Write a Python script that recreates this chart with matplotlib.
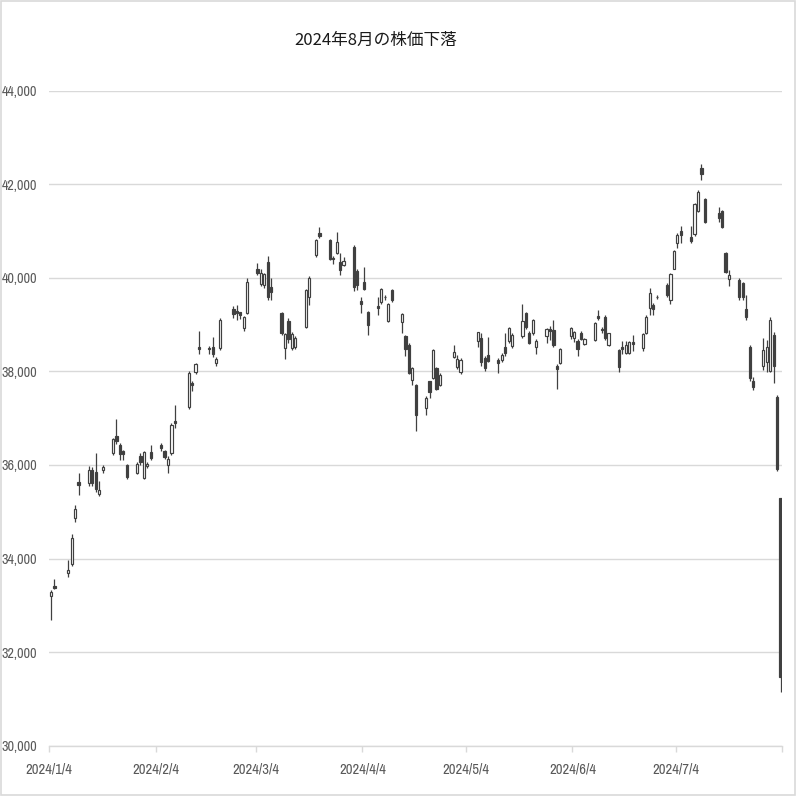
import datetime as dt
import matplotlib
matplotlib.use("Agg")
import matplotlib.pyplot as plt
import matplotlib.dates as mdates
from matplotlib import font_manager
from matplotlib.font_manager import FontProperties
from matplotlib.patches import Rectangle

# ---------------- data ----------------
dates = [
    "2024-01-04", "2024-01-05", "2024-01-09", "2024-01-10", "2024-01-11", "2024-01-12",
    "2024-01-15", "2024-01-16", "2024-01-17", "2024-01-18", "2024-01-19",
    "2024-01-22", "2024-01-23", "2024-01-24", "2024-01-25", "2024-01-26",
    "2024-01-29", "2024-01-30", "2024-01-31", "2024-02-01", "2024-02-02",
    "2024-02-05", "2024-02-06", "2024-02-07", "2024-02-08", "2024-02-09",
    "2024-02-13", "2024-02-14", "2024-02-15", "2024-02-16",
    "2024-02-19", "2024-02-20", "2024-02-21", "2024-02-22",
    "2024-02-26", "2024-02-27", "2024-02-28", "2024-02-29", "2024-03-01",
    "2024-03-04", "2024-03-05", "2024-03-06", "2024-03-07", "2024-03-08",
    "2024-03-11", "2024-03-12", "2024-03-13", "2024-03-14", "2024-03-15",
    "2024-03-18", "2024-03-19", "2024-03-21", "2024-03-22",
    "2024-03-25", "2024-03-26", "2024-03-27", "2024-03-28", "2024-03-29",
    "2024-04-01", "2024-04-02", "2024-04-03", "2024-04-04", "2024-04-05",
    "2024-04-08", "2024-04-09", "2024-04-10", "2024-04-11", "2024-04-12",
    "2024-04-15", "2024-04-16", "2024-04-17", "2024-04-18", "2024-04-19",
    "2024-04-22", "2024-04-23", "2024-04-24", "2024-04-25", "2024-04-26",
    "2024-04-30", "2024-05-01", "2024-05-02",
    "2024-05-07", "2024-05-08", "2024-05-09", "2024-05-10",
    "2024-05-13", "2024-05-14", "2024-05-15", "2024-05-16", "2024-05-17",
    "2024-05-20", "2024-05-21", "2024-05-22", "2024-05-23", "2024-05-24",
    "2024-05-27", "2024-05-28", "2024-05-29", "2024-05-30", "2024-05-31",
    "2024-06-03", "2024-06-04", "2024-06-05", "2024-06-06", "2024-06-07",
    "2024-06-10", "2024-06-11", "2024-06-12", "2024-06-13", "2024-06-14",
    "2024-06-17", "2024-06-18", "2024-06-19", "2024-06-20", "2024-06-21",
    "2024-06-24", "2024-06-25", "2024-06-26", "2024-06-27", "2024-06-28",
    "2024-07-01", "2024-07-02", "2024-07-03", "2024-07-04", "2024-07-05",
    "2024-07-08", "2024-07-09", "2024-07-10", "2024-07-11", "2024-07-12",
    "2024-07-16", "2024-07-17", "2024-07-18", "2024-07-19",
    "2024-07-22", "2024-07-23", "2024-07-24", "2024-07-25", "2024-07-26",
    "2024-07-29", "2024-07-30", "2024-07-31", "2024-08-01", "2024-08-02",
    "2024-08-03",
]

opens = [
    33193, 33420, 33690, 33890, 34865, 35640,
    35620, 35900, 35860, 35380, 35900,
    36260, 36620, 36430, 36290, 36010,
    35820, 36200, 35730, 35980, 36270,
    36430, 36290, 36000, 36250, 36950,
    37250, 37760, 37990, 38530,
    38500, 38530, 38180, 38500,
    39330, 39290, 39260, 38930, 39250,
    40200, 39860, 39850, 40350, 39810,
    39250, 38500, 39070, 38500, 38530,
    38950, 39600, 40490, 40960,
    40810, 40430, 40530, 40340, 40280,
    40670, 40150, 39500, 39920, 39260,
    39400, 39490, 39600, 39080, 39750,
    39050, 38750, 38570, 37820, 37720,
    37210, 37790, 37860, 38070, 37720,
    38300, 38090, 37990,
    38640, 38710, 38280, 38360,
    38250, 38250, 38520, 38640, 38550,
    38750, 39240, 38830, 38820, 38520,
    38750, 38910, 38890, 38120, 38180,
    38750, 38710, 38640, 38820, 38590,
    38680, 39180, 38900, 39170, 38560,
    38460, 38520, 38400, 38400, 38620,
    38500, 38820, 39350, 39420, 39600,
    39850, 39530, 40200, 40740, 41000,
    40870, 40940, 41420, 42350, 41680,
    41380, 41420, 40530, 39970,
    39960, 39890, 39330, 38530, 37790,
    38110, 38210, 38000, 38780, 37450,
    35294,
]

highs = [
    33330, 33570, 33975, 34530, 35150, 35820,
    35980, 35960, 36250, 35650, 36010,
    36580, 36984, 36470, 36330, 36020,
    36070, 36250, 36300, 36060, 36430,
    36460, 36310, 36200, 36900, 37287,
    38000, 37790, 38190, 38865,
    38540, 38730, 38300, 39140,
    39390, 39420, 39280, 39180, 39990,
    40320, 40180, 40100, 40470, 40000,
    39280, 38830, 39140, 38850, 38760,
    39760, 40030, 40830, 41087,
    40830, 40460, 40979, 40530, 40450,
    40710, 40180, 39600, 40240, 39300,
    39590, 39790, 39640, 39470, 39770,
    39250, 38780, 38600, 38090, 37740,
    37470, 37800, 38470, 38100, 37960,
    38570, 38350, 38290,
    38850, 38820, 38330, 38740,
    38290, 38400, 38820, 38960, 38830,
    39437, 39280, 38870, 39130, 38700,
    38920, 38980, 39100, 38150, 38500,
    38950, 38870, 38700, 38870, 38720,
    39060, 39320, 38960, 39210, 38830,
    38470, 38650, 38650, 38650, 38780,
    38830, 39200, 39780, 39460, 39630,
    39900, 40100, 40600, 40960, 41100,
    41100, 41600, 41880, 42426, 41700,
    41520, 41450, 40550, 40170,
    39990, 39920, 39640, 38560, 37890,
    38710, 38680, 39170, 38850, 37500,
    35294,
]

lows = [
    32693, 33350, 33600, 33840, 34780, 35360,
    35560, 35560, 35430, 35340, 35820,
    36220, 36450, 36110, 36100, 35700,
    35800, 36000, 35700, 35940, 36100,
    36300, 36120, 35830, 36220, 36800,
    37195, 37590, 37950, 38380,
    38380, 38300, 38110, 38460,
    39150, 39100, 39130, 38875, 39230,
    40070, 39820, 39790, 39530, 39530,
    38780, 38271, 38600, 38450, 38480,
    38930, 39420, 40450, 40850,
    40380, 40300, 40500, 40070, 40250,
    39710, 39740, 39250, 39740, 38780,
    39210, 39450, 39530, 39060, 39490,
    38820, 38320, 37950, 37710, 36733,
    37070, 37430, 37840, 37600, 37680,
    38280, 38050, 37950,
    38530, 38110, 38000, 38200,
    37960, 38200, 38330, 38600, 38500,
    38720, 38900, 38580, 38780, 38370,
    38600, 38680, 38520, 37617, 38150,
    38700, 38630, 38330, 38680, 38560,
    38660, 39100, 38820, 38680, 38540,
    37980, 38380, 38380, 38380, 38430,
    38430, 38800, 39210, 39210, 39550,
    39600, 39450, 40180, 40640, 40740,
    40750, 40900, 41400, 42100, 41170,
    41200, 41060, 40100, 39820,
    39530, 39530, 39090, 37800, 37610,
    38030, 37980, 37990, 37750, 35880,
    31156,
]

closes = [
    33288, 33377, 33763, 34441, 35049, 35577,
    35901, 35619, 35477, 35466, 35963,
    36546, 36517, 36226, 36236, 35751,
    36026, 36065, 36286, 36011, 36158,
    36354, 36160, 36119, 36863, 36897,
    37963, 37703, 38157, 38487,
    38470, 38363, 38262, 39098,
    39233, 39239, 39208, 39166, 39910,
    40109, 40097, 40090, 39598, 39688,
    38820, 38797, 38695, 38807, 38707,
    39740, 40003, 40815, 40888,
    40414, 40398, 40762, 40168, 40369,
    39803, 39838, 39451, 39773, 38992,
    39347, 39773, 39581, 39442, 39523,
    39232, 38471, 37961, 38079, 37068,
    37438, 37552, 38460, 37628, 37934,
    38405, 38274, 38236,
    38835, 38202, 38073, 38229,
    38179, 38356, 38385, 38920, 38787,
    39069, 38946, 38617, 39103, 38646,
    38900, 38855, 38556, 38054, 38487,
    38923, 38837, 38490, 38703, 38683,
    39038, 39134, 38876, 38720, 38814,
    38102, 38482, 38570, 38633, 38596,
    38804, 39173, 39667, 39341, 39583,
    39631, 40074, 40580, 40913, 40912,
    40780, 41580, 41831, 42224, 41190,
    41275, 41097, 40126, 40063,
    39599, 39594, 39154, 37869, 37667,
    38468, 38525, 39101, 38126, 35909,
    31458,
]

tick_dates = ["2024-01-04", "2024-02-04", "2024-03-04", "2024-04-04",
              "2024-05-04", "2024-06-04", "2024-07-04"]
tick_labels = ["2024/1/4", "2024/2/4", "2024/3/4", "2024/4/4",
               "2024/5/4", "2024/6/4", "2024/7/4"]
axis_end_date = "2024-08-04"
y_ticks = [30000, 32000, 34000, 36000, 38000, 40000, 42000, 44000]
title_text = "2024年8月の株価下落"

# ---------------- fonts ----------------
def pick_narrow():
    cands = []
    for f in font_manager.fontManager.ttflist:
        n = f.name.lower()
        st = str(f.stretch).lower()
        if f.style != "normal" or f.weight not in (400, "normal", "regular"):
            continue
        score = None
        if "narrow" in n:
            score = 0
        elif "condensed" in n:
            score = 1
        elif "condensed" in st:
            score = 2
        if score is not None:
            cands.append((score, f.fname))
    if cands:
        cands.sort()
        return FontProperties(fname=cands[0][1])
    return FontProperties(family="Roboto")

narrow_fp = pick_narrow()
cjk = ["Noto Sans CJK JP", "DejaVu Sans"]

# ---------------- figure ----------------
fig = plt.figure(figsize=(7.96, 7.96), dpi=100)
fig.patch.set_facecolor("white")
W = H = 796.0
left, right, top, bottom = 49.3, 782.3, 90.8, 745.6
ax = fig.add_axes([left / W, 1 - bottom / H, (right - left) / W, (bottom - top) / H])

def to_num(s):
    return mdates.date2num(dt.datetime.strptime(s, "%Y-%m-%d"))

x = [to_num(d) + 0.5 for d in dates]
dark = "#404040"

ax.vlines(x, lows, highs, colors=dark, linewidth=0.9, zorder=2)

bottoms = [min(o, c) for o, c in zip(opens, closes)]
heights = [max(abs(c - o), 12) for o, c in zip(opens, closes)]
faces = ["white" if c >= o else dark for o, c in zip(opens, closes)]
ax.bar(x, heights, bottom=bottoms, width=0.64, color=faces,
       edgecolor=dark, linewidth=0.85, zorder=3)

ax.set_xlim(to_num(tick_dates[0]), to_num(axis_end_date))
ax.set_ylim(y_ticks[0], y_ticks[-1])

ax.set_xticks([to_num(d) for d in tick_dates] + [to_num(axis_end_date)])
ax.set_xticklabels(tick_labels + [""])
ax.set_yticks(y_ticks)
ax.set_yticklabels([f"{v:,}" for v in y_ticks])
for lab in ax.get_xticklabels():
    lab.set_fontproperties(narrow_fp)
    lab.set_fontsize(10.5)
    lab.set_color("#595959")
for lab in ax.get_yticklabels():
    lab.set_fontproperties(narrow_fp)
    lab.set_fontsize(10.2)
    lab.set_color("#595959")

ax.grid(axis="y", color="#d9d9d9", linewidth=1.0, zorder=0)
ax.set_axisbelow(True)
for s in ["top", "right", "left"]:
    ax.spines[s].set_visible(False)
ax.spines["bottom"].set_color("#d9d9d9")
ax.spines["bottom"].set_linewidth(1.0)
ax.tick_params(axis="x", length=4, width=1.0, color="#d9d9d9", pad=8)
ax.tick_params(axis="y", length=0, pad=8.5)

fig.text(376 / W, 1 - 40 / H, title_text, ha="center", va="center",
         fontsize=12, family=cjk, color="#1a1a1a")

fig.patches.append(Rectangle((0.0008, 0.0008), 0.9984, 0.9984, transform=fig.transFigure,
                             fill=False, edgecolor="#d9d9d9", linewidth=1.2))

fig.savefig("out.png", dpi=100, facecolor="white")
